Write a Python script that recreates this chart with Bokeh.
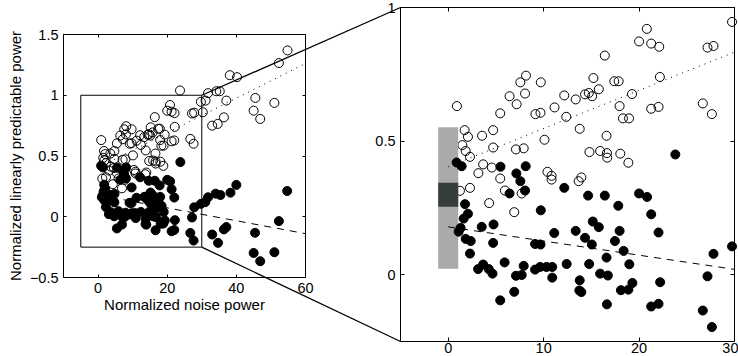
import numpy as np
from bokeh.plotting import figure
from bokeh.models import Range1d, LinearAxis, FixedTicker
from bokeh.embed import file_html
from bokeh.resources import INLINE

# ---------------- data ----------------
open_x = [0.91, 1.72, 2.07, 1.48, 1.83, 2.28, 1.23, 2.28, 3.55, 4.71, 4.71, 3.66, 4.57, 3.16, 5.45,
          4.29, 5.94, 5.45, 6.43, 7.17, 7.56, 8.15, 8.05, 7.10, 7.91, 7.70, 6.92, 9.14, 9.67, 9.70,
          10.09, 10.40, 10.83, 10.83, 11.14, 12.16, 12.37, 13.36, 13.78, 13.67, 13.95, 14.34, 14.73,
          15.08, 15.22, 15.78, 14.80, 15.92, 16.59, 16.41, 16.63, 16.66, 17.40, 17.86, 17.96, 18.03,
          18.31, 18.95, 19.26, 18.88, 20.00, 20.81, 21.27, 22.11, 22.18, 21.27, 22.04, 26.68, 27.63,
          27.17, 27.80, 29.74,
          23.7, 31.1, 31.8, 34.2, 35.2, 30.3, 37.1, 33.0, 34.6, 36.4, 38.1, 40.2, 45.5, 45.0, 46.9,
          51.0, 52.3, 54.8]
open_y = [0.631, 0.541, 0.516, 0.485, 0.463, 0.441, 0.314, 0.325, 0.520, 0.541, 0.476, 0.413, 0.401,
          0.380, 0.360, 0.268, 0.315, 0.604, 0.668, 0.638, 0.720, 0.745, 0.678, 0.469, 0.473, 0.304,
          0.234, 0.601, 0.606, 0.720, 0.505, 0.385, 0.370, 0.356, 0.626, 0.671, 0.591, 0.656, 0.546,
          0.350, 0.364, 0.675, 0.680, 0.668, 0.736, 0.694, 0.459, 0.463, 0.520, 0.820, 0.455, 0.438,
          0.724, 0.724, 0.631, 0.453, 0.585, 0.585, 0.676, 0.419, 0.873, 0.920, 0.865, 0.853, 0.740,
          0.621, 0.628, 0.641, 0.601, 0.850, 0.856, 0.946,
          1.039, 0.956, 1.017, 1.033, 1.033, 0.860, 0.956, 0.750, 0.764, 0.818, 1.165, 1.149, 0.978,
          0.873, 0.805, 0.937, 1.265, 1.369]

filled_x = [0.88, 1.41, 5.48, 7.14, 7.56, 8.12, 8.05, 6.43, 12.16, 9.70, 14.66, 16.41, 17.82, 20.00,
            20.84, 21.27, 23.80, 1.76, 2.07, 1.62, 1.30, 1.09, 1.83, 2.36, 2.28, 3.51, 4.75, 4.71,
            3.13, 3.66, 4.25, 4.64, 5.91, 5.45, 6.92, 7.10, 7.70, 7.91, 9.10, 9.67, 11.11, 9.10, 9.63,
            10.30, 10.90, 10.90, 12.41, 13.36, 14.34, 15.15, 15.78, 15.05, 14.77, 13.78, 13.74, 13.95,
            15.92, 16.73, 16.59, 16.63, 17.47, 17.96, 18.38, 18.98, 18.10, 18.88, 19.30, 22.04, 22.21,
            21.27, 22.04, 26.68, 27.17, 27.80, 27.63, 29.74,
            31.0, 31.8, 34.0, 35.4, 38.3, 40.0, 54.7, 52.3, 36.4, 37.1, 33.0, 34.7, 45.4, 45.0, 46.9,
            51.0]
filled_y = [0.420, 0.406, 0.404, 0.379, 0.350, 0.406, 0.315, 0.304, 0.325, 0.241, 0.296, 0.296, 0.258,
            0.304, 0.291, 0.226, 0.450, 0.264, 0.228, 0.210, 0.175, 0.161, 0.134, 0.126, 0.079, 0.179,
            0.188, 0.119, 0.021, 0.038, 0.021, 0.004, 0.046, -0.096, -0.064, -0.004, -0.001, 0.033,
            0.115, 0.113, 0.156, 0.019, 0.029, 0.029, 0.029, -0.011, 0.040, 0.164, 0.138, 0.199, 0.178,
            0.113, 0.040, -0.021, -0.059, -0.065, 0.004, -0.003, 0.064, -0.111, 0.126, 0.164, 0.089,
            0.039, -0.058, -0.056, -0.031, 0.158, -0.028, -0.119, -0.109, -0.134, -0.006, 0.078, -0.196,
            0.106,
            0.120, 0.160, 0.190, 0.179, 0.198, 0.262, 0.212, -0.036, -0.104, -0.085, -0.146, -0.215,
            -0.132, -0.298, -0.366, -0.292]

# linear fits: (intercept, slope), drawn from x = 0
open_fit = (0.404, 0.0143)
filled_fit = (0.179, -0.0053)
fit_x_start = 0

# bars at x = 0 in the zoomed panel
bar_x = (-1.05, 1.05)
bar_outer = (0.022, 0.552)
bar_inner = (0.254, 0.344)

left_xlim = (-10, 60)
left_ylim = (-0.5, 1.5)
left_xticks = [0, 20, 40, 60]
left_xtick_labels = ["0", "20", "40", "60"]
left_yticks = [-0.5, 0, 0.5, 1, 1.5]
left_ytick_labels = ["\u22120.5", "0", "0.5", "1", "1.5"]
right_xlim = (-5, 30)
right_ylim = (-0.25, 1)
right_xticks = [0, 10, 20, 30]
right_xtick_labels = ["0", "10", "20", "30"]
right_yticks = [0, 0.5, 1]
right_ytick_labels = ["0", "0.5", "1"]
xlabel = "Normalized noise power"
ylabel = "Normalized linearly predictable power"

# ---------------- layout (pixels) ----------------
W, H = 738, 356
L_BOX = (63, 305, 34, 277)     # x0, x1, ytop, ybottom
R_BOX = (400, 734, 7, 341)
FONT = "Liberation Sans"
TICK_FS = "14.5px"
LABEL_FS = "15px"


def ranges_for(xlim, ylim, box):
    x0, x1, yt, yb = box
    sx = (xlim[1] - xlim[0]) / (x1 - x0)
    sy = (ylim[1] - ylim[0]) / (yb - yt)
    xr = Range1d(start=xlim[0] - x0 * sx, end=xlim[0] + (W - x0) * sx)
    yr = Range1d(start=ylim[0] - (H - yb) * sy, end=ylim[1] + yt * sy)
    return xr, yr


def to_px(x, y, xlim, ylim, box):
    x0, x1, yt, yb = box
    px = x0 + (x - xlim[0]) / (xlim[1] - xlim[0]) * (x1 - x0)
    py = yb - (y - ylim[0]) / (ylim[1] - ylim[0]) * (yb - yt)
    return px, py


p = figure(width=W, height=H, x_range=Range1d(0, W), y_range=Range1d(H, 0),
           output_backend="svg", toolbar_location=None, x_axis_location=None,
           y_axis_location=None, min_border=0, outline_line_color=None, title=None)
p.grid.visible = False
p.background_fill_color = "white"
p.border_fill_color = "white"

lxr, lyr = ranges_for(left_xlim, left_ylim, L_BOX)
rxr, ryr = ranges_for(right_xlim, right_ylim, R_BOX)
p.extra_x_ranges = {"lx": lxr, "rx": rxr}
p.extra_y_ranges = {"ly": lyr, "ry": ryr}


def box_axes(xn, yn, xlim, ylim, xt, xtl, yt, ytl, tick_len, xlab=None, ylab=None, hide_top_ylabel=False,
             x_standoff=5):
    common = dict(x_range_name=xn, y_range_name=yn, axis_line_color="black", axis_line_width=1,
                  major_tick_in=tick_len, major_tick_out=0, major_tick_line_color="black",
                  minor_tick_line_color=None, major_label_text_font=FONT,
                  major_label_text_font_size=TICK_FS, major_label_text_color="black",
                  axis_label_text_font=FONT, axis_label_text_font_size=LABEL_FS,
                  axis_label_text_font_style="normal", axis_label_text_color="black")
    bottom = LinearAxis(fixed_location=ylim[0], bounds=xlim, ticker=FixedTicker(ticks=xt),
                        major_label_overrides=dict(zip(xt, xtl)), major_label_standoff=x_standoff,
                        axis_label=xlab, axis_label_standoff=0, **common)
    p.add_layout(bottom, "below")
    ylabels = list(ytl)
    if hide_top_ylabel:
        ylabels[-1] = ""
    left = LinearAxis(fixed_location=xlim[0], bounds=ylim, ticker=FixedTicker(ticks=yt),
                      major_label_overrides=dict(zip(yt, ylabels)), major_label_standoff=5,
                      axis_label=ylab, axis_label_standoff=3, **common)
    p.add_layout(left, "left")
    top = LinearAxis(fixed_location=ylim[1], bounds=xlim, ticker=FixedTicker(ticks=xt),
                     major_label_text_alpha=0, **common)
    p.add_layout(top, "above")
    right = LinearAxis(fixed_location=xlim[1], bounds=ylim, ticker=FixedTicker(ticks=yt),
                       major_label_text_alpha=0, **common)
    p.add_layout(right, "right")
    if hide_top_ylabel:
        c2 = dict(common)
        c2.update(axis_line_color=None, major_tick_line_color=None)
        lab = LinearAxis(fixed_location=xlim[0], ticker=FixedTicker(ticks=[yt[-1]]),
                         major_label_overrides={yt[-1]: ytl[-1]}, major_label_standoff=5,
                         major_label_text_baseline="top", **c2)
        p.add_layout(lab, "left")


# ---------------- left (overview) panel ----------------
p.quad(left=[right_xlim[0]], right=[right_xlim[1]], bottom=[right_ylim[0]], top=[right_ylim[1]],
       fill_color=None, line_color="black", line_width=1, x_range_name="lx", y_range_name="ly")
p.scatter(open_x, open_y, marker="circle", size=9, fill_color=None, line_color="black",
          line_width=1, x_range_name="lx", y_range_name="ly")
p.scatter(filled_x, filled_y, marker="circle", size=9, fill_color="black", line_color="black",
          line_width=1, x_range_name="lx", y_range_name="ly")
lfx = [fit_x_start, left_xlim[1]]
p.line(lfx, [open_fit[0] + open_fit[1] * v for v in lfx], line_color="black", line_width=1,
       line_dash="1 5", x_range_name="lx", y_range_name="ly")
p.line(lfx, [filled_fit[0] + filled_fit[1] * v for v in lfx], line_color="black", line_width=1,
       line_dash="7 6", x_range_name="lx", y_range_name="ly")
box_axes("lx", "ly", left_xlim, left_ylim, left_xticks, left_xtick_labels, left_yticks,
         left_ytick_labels, 3, xlab=xlabel, ylab=ylabel, x_standoff=5)

# ---------------- right (zoomed) panel ----------------
ox, oy = np.array(open_x), np.array(open_y)
fx, fy = np.array(filled_x), np.array(filled_y)
om = (ox >= right_xlim[0]) & (ox <= right_xlim[1]) & (oy >= right_ylim[0]) & (oy <= right_ylim[1])
fm = (fx >= right_xlim[0]) & (fx <= right_xlim[1]) & (fy >= right_ylim[0]) & (fy <= right_ylim[1])
p.scatter(ox[om], oy[om], marker="circle", size=9, fill_color=None, line_color="black",
          line_width=1, x_range_name="rx", y_range_name="ry")
p.quad(left=[bar_x[0]], right=[bar_x[1]], bottom=[bar_outer[0]], top=[bar_outer[1]],
       fill_color="#aaaaaa", line_color=None, x_range_name="rx", y_range_name="ry")
p.quad(left=[bar_x[0]], right=[bar_x[1]], bottom=[bar_inner[0]], top=[bar_inner[1]],
       fill_color="#373d3a", line_color=None, x_range_name="rx", y_range_name="ry")
p.scatter(fx[fm], fy[fm], marker="circle", size=9, fill_color="black", line_color="black",
          line_width=1, x_range_name="rx", y_range_name="ry")
rfx = [fit_x_start, right_xlim[1]]
p.line(rfx, [open_fit[0] + open_fit[1] * v for v in rfx], line_color="black", line_width=1,
       line_dash="1 5", x_range_name="rx", y_range_name="ry")
p.line(rfx, [filled_fit[0] + filled_fit[1] * v for v in rfx], line_color="black", line_width=1,
       line_dash="7 6", x_range_name="rx", y_range_name="ry")
box_axes("rx", "ry", right_xlim, right_ylim, right_xticks, right_xtick_labels, right_yticks,
         right_ytick_labels, 4, hide_top_ylabel=True, x_standoff=1)

# ---------------- connectors between inset box and zoomed panel ----------------
a_top = to_px(right_xlim[1], right_ylim[1], left_xlim, left_ylim, L_BOX)
a_bot = to_px(right_xlim[1], right_ylim[0], left_xlim, left_ylim, L_BOX)
b_top = to_px(right_xlim[0], right_ylim[1], right_xlim, right_ylim, R_BOX)
b_bot = to_px(right_xlim[0], right_ylim[0], right_xlim, right_ylim, R_BOX)
p.segment(x0=[a_top[0], a_bot[0]], y0=[a_top[1], a_bot[1]], x1=[b_top[0], b_bot[0]],
          y1=[b_top[1], b_bot[1]], line_color="black", line_width=1.3)

open("out.html", "w").write(file_html(p, INLINE))
